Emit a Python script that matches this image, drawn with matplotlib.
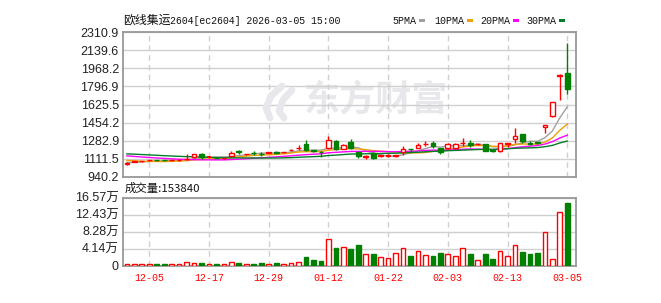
import numpy as np
import pandas as pd
import matplotlib
matplotlib.use("Agg")
import matplotlib.pyplot as plt
from matplotlib.patches import Rectangle
from matplotlib.lines import Line2D

plt.rcParams['font.family'] = ['Liberation Sans', 'Noto Sans CJK SC']

# ---- data ----
# closes of the 29 sessions before the window, only used to seed the moving averages
hist_close = [1180, 1190, 1200, 1210, 1205, 1195, 1190, 1195, 1195, 1190,
              1200, 1195, 1190, 1185, 1180, 1178, 1175, 1172, 1170, 1165,
              1130, 1125, 1115, 1105, 1100, 1078, 1070, 1080, 1075]

opens = [1062, 1084, 1085, 1095, 1100, 1098, 1094, 1096, 1105, 1124,
         1158, 1124, 1122, 1114, 1134, 1180, 1152, 1168, 1160, 1168,
         1172, 1170, 1195, 1212, 1248, 1190, 1178, 1210, 1283, 1206,
         1271, 1170, 1128, 1162, 1140, 1140, 1138, 1172, 1202, 1213,
         1250, 1260, 1210, 1215, 1208, 1260, 1258, 1248, 1250, 1195,
         1182, 1248, 1296, 1345, 1262, 1265, 1409, 1514, 1895, 1928]
highs = [1076, 1092, 1090, 1102, 1102, 1102, 1098, 1101, 1155, 1158,
         1167, 1130, 1125, 1120, 1184, 1190, 1160, 1188, 1176, 1175,
         1186, 1178, 1199, 1240, 1291, 1195, 1180, 1324, 1285, 1255,
         1300, 1175, 1150, 1170, 1150, 1160, 1150, 1230, 1203, 1258,
         1283, 1275, 1212, 1262, 1256, 1312, 1290, 1253, 1252, 1198,
         1260, 1264, 1402, 1348, 1275, 1270, 1430, 1650, 1912, 2205]
lows = [1055, 1080, 1082, 1092, 1093, 1090, 1090, 1092, 1100, 1120,
        1110, 1120, 1115, 1110, 1130, 1158, 1148, 1146, 1140, 1165,
        1160, 1166, 1180, 1190, 1188, 1178, 1128, 1200, 1195, 1200,
        1205, 1118, 1110, 1112, 1128, 1125, 1130, 1147, 1170, 1210,
        1230, 1215, 1152, 1200, 1205, 1235, 1225, 1240, 1180, 1175,
        1178, 1225, 1263, 1263, 1238, 1255, 1352, 1510, 1672, 1726]
closes = [1072, 1088, 1088, 1099, 1096, 1094, 1098, 1100, 1112, 1153,
          1127, 1126, 1119, 1117, 1165, 1177, 1158, 1164, 1156, 1171,
          1169, 1173, 1198, 1216, 1194, 1182, 1170, 1291, 1205, 1238,
          1210, 1132, 1132, 1118, 1143, 1144, 1142, 1200, 1199, 1244,
          1254, 1234, 1176, 1250, 1254, 1264, 1238, 1251, 1188, 1180,
          1257, 1262, 1328, 1282, 1250, 1260, 1428, 1647, 1910, 1776]
volume = [3000, 3000, 3000, 3000, 3000, 3000, 3000, 3000, 8000, 6000,
          6500, 3000, 3000, 3000, 8000, 6500, 5000, 5000, 6500, 5000,
          6500, 3000, 6000, 8000, 21000, 14000, 11500, 64000, 43000, 45000,
          40700, 50000, 27600, 27600, 20000, 18000, 30000, 42000, 23600, 37000,
          25000, 23600, 31000, 27600, 22700, 42000, 28500, 13000, 28500, 16300,
          35000, 22700, 49500, 33000, 28500, 31000, 81000, 15500, 130000, 153840]

tick_idx = [3, 11, 19, 27, 35, 43, 51, 59]
tick_labels = ['12-05', '12-17', '12-29', '01-12', '01-22', '02-03', '02-13', '03-05']

price_ticks = [940.2, 1111.5, 1282.9, 1454.2, 1625.5, 1796.9, 1968.2, 2139.6, 2310.9]
vol_ticks = [0, 41425, 82850, 124275, 165700]
vol_tick_labels = ['0', '4.14万', '8.28万', '12.43万', '16.57万']

ma_windows = [5, 10, 20, 30]
ma_names = ['5PMA', '10PMA', '20PMA', '30PMA']
ma_colors = ['#a0a0a0', '#f0a000', '#ff00ff', '#007f2a']

RED = '#ff0000'
GREEN = '#008000'
GRID = '#d0d0d0'
BORDER = '#999999'
WM = '#e8e8ec'

W, H = 661, 303
fig = plt.figure(figsize=(W / 100, H / 100), dpi=100)


def px_axes(left, top, right, bottom):
    return fig.add_axes([left / W, 1 - bottom / H, (right - left) / W, (bottom - top) / H])


def fx(px):
    return px / W


def fy(py):
    return 1 - py / H


ax = px_axes(123, 32.3, 576, 176.7)
axv = px_axes(123, 197.7, 576, 265.7)

n = len(closes)
x = np.arange(n)
bw = 0.63

# watermark (logo strokes + name)
for pts in ([(282, 86), (271, 96), (266, 108), (270, 118)],
            [(292, 90), (283, 100), (279, 111), (284, 118)]):
    xs, ys = zip(*pts)
    fig.add_artist(Line2D([fx(v) for v in xs], [fy(v) for v in ys], color=WM, lw=5,
                          solid_capstyle='round', zorder=0.5))
ax.text(0.56, 0.53, '东方财富', transform=ax.transAxes, ha='center', va='center',
        fontsize=26, fontweight='bold', color=WM, family='Noto Sans CJK SC', zorder=0)

# moving averages
all_close = pd.Series(hist_close + closes, dtype=float)
for w, col in zip(ma_windows, ma_colors):
    ma = all_close.rolling(w).mean().to_numpy()[-n:]
    ax.plot(x, ma, color=col, lw=1, zorder=2)

# candles
for i in range(n):
    o, h, l, c = opens[i], highs[i], lows[i], closes[i]
    up = c >= o
    col = RED if up else GREEN
    top, bot = max(o, c), min(o, c)
    if top - bot < 3:
        ax.hlines((o + c) / 2, i - bw / 2, i + bw / 2, color=col, lw=1.3, zorder=4)
        ax.vlines(i, l, h, color=col, lw=1, zorder=3)
        continue
    ax.add_patch(Rectangle((i - bw / 2, bot), bw, top - bot,
                           facecolor='white' if up else col, edgecolor=col,
                           lw=1, zorder=4))
    ax.vlines(i, top, h, color=col, lw=1, zorder=3)
    ax.vlines(i, l, bot, color=col, lw=1, zorder=3)

# volume
for i in range(n):
    up = closes[i] >= opens[i]
    col = RED if up else GREEN
    axv.bar(i, volume[i], width=bw, facecolor='white' if up else col,
            edgecolor=col, lw=1, zorder=3)

for a in (ax, axv):
    a.set_xlim(-0.52, 60.17)
    a.patch.set_alpha(0)
    for s in a.spines.values():
        s.set_color(BORDER)
        s.set_linewidth(1.3)
    a.set_xticks(tick_idx)
    a.tick_params(length=0, labelsize=9, colors='#222222', pad=3)
    a.grid(axis='y', color=GRID, lw=1, zorder=0)
    for t in tick_idx:
        a.axvline(t, color=GRID, lw=1, ls=(0, (4, 3)), zorder=0)

ax.set_ylim(price_ticks[0], price_ticks[-1])
ax.set_yticks(price_ticks)
ax.set_yticklabels(['%.1f' % v for v in price_ticks])
ax.set_xticklabels([])

axv.set_ylim(0, vol_ticks[-1])
axv.set_yticks(vol_ticks)
axv.set_yticklabels(vol_tick_labels)
axv.set_xticklabels(tick_labels, family='Liberation Mono', fontsize=7.2)
axv.tick_params(axis='x', pad=5)
for lab in axv.get_xticklabels():
    lab.set_color(RED)

# header
fig.text(fx(123), fy(20.5), '欧线集运', family='Noto Sans CJK SC', fontsize=8.6,
         va='center', ha='left', color='#111111')
fig.text(fx(170), fy(20.5), '2604[ec2604] 2026-03-05 15:00', family='Liberation Mono',
         fontsize=7.1, va='center', ha='left', color='#111111')

leg_x = [392.7, 434, 480, 526]
sw_x = [419, 467, 513, 559]
for name, lx, sx, col in zip(ma_names, leg_x, sw_x, ma_colors):
    fig.text(fx(lx), fy(20.5), name, family='Liberation Mono', fontsize=7.2,
             va='center', ha='left', color='#111111')
    fig.patches.append(Rectangle((fx(sx), fy(22)), 5.5 / W, 3 / H,
                                 transform=fig.transFigure, facecolor=col, edgecolor='none'))

fig.text(fx(125), fy(188.3), '成交量:%d' % volume[-1], family='Noto Sans CJK SC',
         fontsize=8.2, va='center', ha='left', color='#111111')

fig.savefig('out.png', dpi=100, facecolor='white')
